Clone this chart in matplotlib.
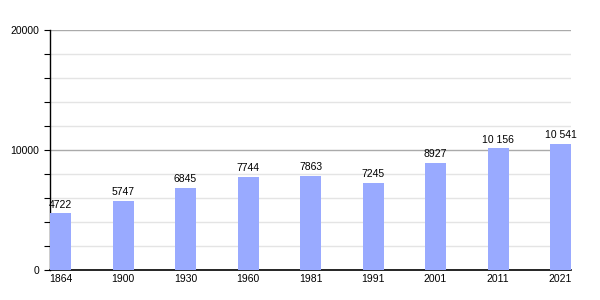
import matplotlib
matplotlib.use("Agg")
import matplotlib.pyplot as plt

years = ["1864", "1900", "1930", "1960", "1981", "1991", "2001", "2011", "2021"]
population = [4722, 5747, 6845, 7744, 7863, 7245, 8927, 10156, 10541]
labels = ["4722", "5747", "6845", "7744", "7863", "7245", "8927", "10 156", "10 541"]

plt.rcParams['font.family'] = ['Liberation Sans', 'DejaVu Sans']
fig = plt.figure(figsize=(6, 3), dpi=100)
ax = fig.add_axes([50/600, 0.1, 521/600, 0.8])

w = 0.336
x = list(range(len(years)))
ax.bar(x, population, width=w, color="#99aaff", zorder=3)
ax.set_xlim(-w/2, len(years) - 1 + w/2)
ax.set_ylim(0, 20000)

for v in range(2000, 20001, 2000):
    c = "#aaaaaa" if v % 10000 == 0 else "#e4e4e4"
    ax.axhline(v, color=c, lw=1, zorder=1)

for xi, v, t in zip(x, population, labels):
    ax.text(xi, v + 300, t, ha="center", va="bottom", fontsize=7.5, zorder=4)

ax.set_xticks(x)
ax.set_xticklabels(years, fontsize=7.5)
ax.tick_params(axis="x", length=0, pad=3)
ax.set_yticks([0, 10000, 20000])
ax.set_yticklabels(["0", "10000", "20000"], fontsize=7.5)
ax.set_yticks(range(0, 20001, 2000), minor=True)
ax.tick_params(axis="y", which="both", length=4, width=0.8, direction="out", pad=4)
for s in ["top", "right"]:
    ax.spines[s].set_visible(False)
ax.spines["left"].set_linewidth(1)
ax.spines["bottom"].set_linewidth(1.2)

fig.savefig("out.png", dpi=100)
